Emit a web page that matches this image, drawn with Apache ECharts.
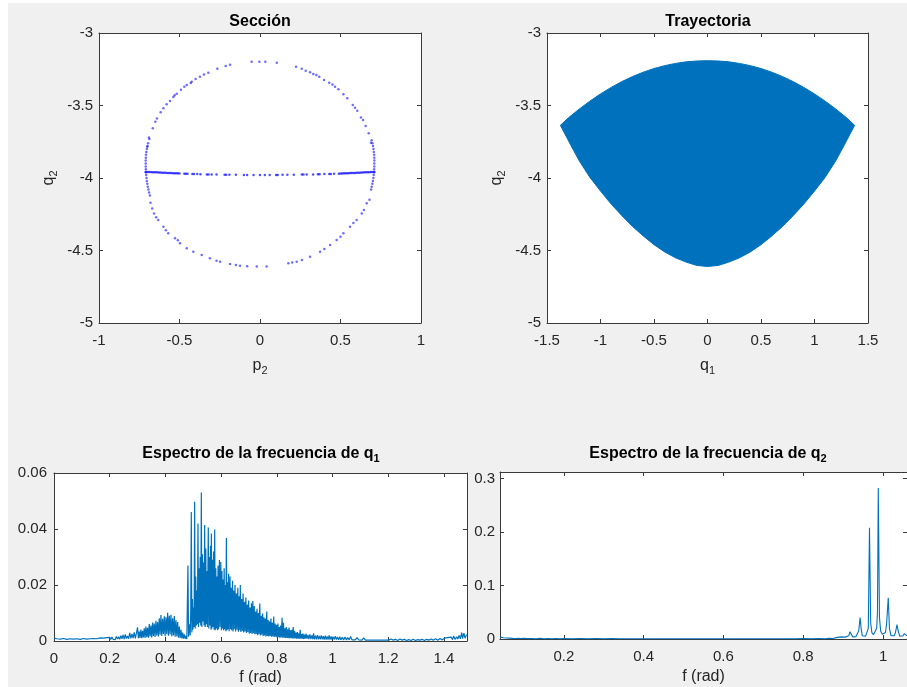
<!DOCTYPE html>
<html>
<head>
<meta charset="utf-8">
<script src="https://cdn.jsdelivr.net/npm/echarts@6/dist/echarts.min.js"></script>
<style>
html,body{margin:0;padding:0;background:#fff;}
#chart{width:907px;height:687px;}
</style>
</head>
<body>
<div id="chart"></div>
<script>
// ---------- DATA ----------
// Poincaré section points (p2, q2)
const sectionRing = [
[-0.052,-3.198],[-0.004,-3.198],[0.033,-3.198],[0.104,-3.205],
[-0.186,-3.219],[-0.213,-3.228],[-0.265,-3.246],[-0.321,-3.274],[-0.348,-3.287],[-0.373,-3.301],[-0.40,-3.317],[-0.424,-3.336],[-0.43,-3.345],[-0.455,-3.359],[-0.47,-3.37],[-0.491,-3.391],[-0.517,-3.419],[-0.53,-3.43],[-0.538,-3.441],[-0.559,-3.469],[-0.58,-3.492],[-0.60,-3.519],[-0.617,-3.547],[-0.64,-3.59],[-0.65,-3.612],[-0.666,-3.657],[-0.687,-3.731],[-0.69,-3.72],[-0.70,-3.784],
[0.224,-3.232],[0.259,-3.246],[0.284,-3.26],[0.311,-3.271],[0.331,-3.283],[0.35,-3.29],[0.368,-3.301],[0.398,-3.324],[0.43,-3.343],[0.45,-3.355],[0.466,-3.37],[0.487,-3.388],[0.518,-3.423],[0.542,-3.45],[0.576,-3.497],[0.59,-3.515],[0.604,-3.536],[0.627,-3.582],[0.64,-3.60],[0.656,-3.641],[0.675,-3.692],[0.689,-3.757],
[-0.68,-4.17],[-0.67,-4.21],[-0.658,-4.244],[-0.645,-4.27],[-0.632,-4.29],[-0.60,-4.336],[-0.585,-4.36],[-0.57,-4.381],[-0.528,-4.416],[-0.51,-4.43],[-0.497,-4.45],[-0.455,-4.485],[-0.414,-4.508],[-0.362,-4.531],[-0.311,-4.554],[-0.27,-4.57],[-0.248,-4.577],[-0.186,-4.593],[-0.15,-4.60],[-0.124,-4.605],[-0.08,-4.608],[-0.02,-4.611],[0.041,-4.611],
[0.176,-4.588],[0.2,-4.583],[0.228,-4.577],[0.26,-4.565],[0.311,-4.543],[0.373,-4.508],[0.4,-4.49],[0.435,-4.462],[0.476,-4.428],[0.5,-4.405],[0.518,-4.381],[0.559,-4.336],[0.58,-4.31],[0.60,-4.29],[0.632,-4.244],[0.645,-4.22],[0.663,-4.174],[0.68,-4.15],
[-0.695,-3.76],[-0.699,-3.78],[-0.703,-3.80],[-0.706,-3.82],[-0.708,-3.84],[-0.709,-3.86],[-0.710,-3.88],[-0.710,-3.90],[-0.710,-3.92],[-0.709,-3.94],[-0.708,-3.96],[-0.707,-3.98],[-0.705,-4.00],[-0.703,-4.02],[-0.700,-4.04],[-0.697,-4.06],[-0.693,-4.08],[-0.689,-4.10],[-0.684,-4.12],
[0.694,-3.74],[0.698,-3.76],[0.702,-3.78],[0.705,-3.80],[0.707,-3.82],[0.709,-3.84],[0.710,-3.86],[0.710,-3.88],[0.710,-3.90],[0.710,-3.92],[0.709,-3.94],[0.708,-3.96],[0.706,-3.98],[0.704,-4.00],[0.701,-4.02],[0.698,-4.04],[0.694,-4.06],[0.690,-4.08]
];
const sectionLine = [
[-0.71,-3.958],[-0.70,-3.958],[-0.69,-3.959],[-0.68,-3.959],[-0.67,-3.960],[-0.66,-3.960],[-0.65,-3.961],[-0.64,-3.961],[-0.63,-3.962],[-0.62,-3.962],[-0.61,-3.963],[-0.60,-3.964],[-0.59,-3.964],[-0.58,-3.965],[-0.57,-3.965],[-0.56,-3.966],[-0.55,-3.966],[-0.54,-3.967],[-0.53,-3.967],[-0.52,-3.968],[-0.51,-3.968],[-0.50,-3.969],[-0.47,-3.970],[-0.46,-3.970],[-0.45,-3.971],[-0.42,-3.972],[-0.41,-3.972],[-0.39,-3.973],[-0.37,-3.974],[-0.33,-3.975],[-0.32,-3.975],[-0.30,-3.976],[-0.27,-3.976],[-0.22,-3.977],[-0.21,-3.977],[-0.19,-3.978],[-0.15,-3.978],[-0.10,-3.979],[-0.08,-3.979],[-0.04,-3.979],[0.00,-3.979],[0.03,-3.979],[0.06,-3.979],[0.10,-3.979],[0.11,-3.979],[0.14,-3.978],[0.17,-3.978],[0.21,-3.977],[0.26,-3.976],[0.27,-3.976],[0.29,-3.976],[0.33,-3.975],[0.36,-3.974],[0.37,-3.974],[0.40,-3.973],[0.43,-3.972],[0.44,-3.972],[0.46,-3.971],[0.49,-3.970],[0.50,-3.969],[0.51,-3.969],[0.52,-3.968],[0.53,-3.968],[0.54,-3.967],[0.55,-3.967],[0.56,-3.966],[0.57,-3.966],[0.58,-3.965],[0.59,-3.965],[0.60,-3.964],[0.61,-3.964],[0.62,-3.963],[0.63,-3.962],[0.64,-3.962],[0.65,-3.961],[0.66,-3.961],[0.67,-3.960],[0.68,-3.960],[0.69,-3.959],[0.70,-3.959],[0.71,-3.958]
];
// Trajectory region boundary (q1, q2)
const trajectoryTop = [
[-1.375,-3.637],[-1.3,-3.585],[-1.2,-3.525],[-1.1,-3.47],[-1.0,-3.42],[-0.9,-3.375],[-0.8,-3.335],[-0.7,-3.30],[-0.6,-3.27],[-0.5,-3.245],[-0.4,-3.225],[-0.3,-3.21],[-0.2,-3.199],[-0.1,-3.193],[0,-3.191],[0.1,-3.193],[0.2,-3.199],[0.3,-3.21],[0.4,-3.225],[0.5,-3.245],[0.6,-3.27],[0.7,-3.30],[0.8,-3.335],[0.9,-3.375],[1.0,-3.42],[1.1,-3.47],[1.2,-3.525],[1.3,-3.585],[1.375,-3.637]
];
const trajectoryBottom = [
[1.375,-3.637],[1.33,-3.70],[1.28,-3.77],[1.2,-3.88],[1.1,-3.995],[1.0,-4.09],[0.9,-4.18],[0.8,-4.26],[0.7,-4.335],[0.6,-4.40],[0.5,-4.46],[0.4,-4.51],[0.3,-4.55],[0.2,-4.58],[0.1,-4.603],[0,-4.61],[-0.1,-4.603],[-0.2,-4.58],[-0.3,-4.55],[-0.4,-4.51],[-0.5,-4.46],[-0.6,-4.40],[-0.7,-4.335],[-0.8,-4.26],[-0.9,-4.18],[-1.0,-4.09],[-1.1,-3.995],[-1.2,-3.88],[-1.28,-3.77],[-1.33,-3.70],[-1.375,-3.637]
];
// Spectrum of q1 (f, amplitude)
const spectrumQ1 = [
[0.000,0.0010],[0.005,0.0004],[0.010,0.0008],[0.016,0.0003],[0.022,0.0007],[0.028,0.0004],[0.034,0.0009],[0.040,0.0003],[0.046,0.0006],[0.052,0.0004],[0.058,0.0008],[0.064,0.0003],[0.070,0.0007],[0.076,0.0004],[0.082,0.0008],[0.088,0.0003],[0.094,0.0006],[0.100,0.0004],[0.106,0.0009],[0.112,0.0004],[0.118,0.0007],[0.124,0.0003],[0.130,0.0008],[0.136,0.0004],[0.142,0.0009],[0.148,0.0004],[0.154,0.0008],[0.160,0.0005],[0.166,0.0011],[0.172,0.0004],[0.178,0.0010],[0.184,0.0005],[0.190,0.0012],[0.196,0.0005],
[0.200,0.0013],[0.204,0.0005],[0.208,0.0014],[0.212,0.0006],[0.216,0.0012],[0.220,0.0005],[0.224,0.0016],[0.228,0.0007],[0.232,0.0015],[0.236,0.0006],[0.240,0.0019],[0.244,0.0008],[0.248,0.0022],[0.252,0.0007],[0.256,0.0024],[0.260,0.0009],[0.264,0.0018],[0.268,0.0008],[0.272,0.0029],[0.276,0.0009],[0.280,0.0025],[0.284,0.0010],[0.288,0.0031],[0.292,0.0009],[0.296,0.0028],[0.300,0.0049],[0.303,0.0010],
[0.306,0.0034],[0.309,0.0011],[0.312,0.0041],[0.315,0.0010],[0.318,0.0036],[0.321,0.0013],[0.324,0.0045],[0.327,0.0011],[0.330,0.0052],[0.333,0.0014],[0.336,0.0047],[0.339,0.0012],[0.342,0.0061],[0.345,0.0016],[0.348,0.0055],[0.351,0.0013],[0.354,0.0066],[0.357,0.0018],[0.360,0.0062],[0.363,0.0014],[0.366,0.0072],[0.369,0.0020],[0.372,0.0068],[0.375,0.0016],[0.378,0.0081],[0.381,0.0022],[0.384,0.0093],[0.387,0.0018],[0.390,0.0079],[0.393,0.0025],[0.396,0.0088],[0.399,0.0017],[0.402,0.0085],[0.405,0.0024],[0.408,0.0101],[0.411,0.0019],[0.414,0.0090],[0.417,0.0023],[0.420,0.0094],[0.423,0.0017],[0.426,0.0081],[0.429,0.0020],[0.432,0.0089],[0.435,0.0015],[0.438,0.0074],[0.441,0.0016],[0.444,0.0068],[0.447,0.0012],[0.450,0.0052],[0.453,0.0011],[0.456,0.0040],[0.459,0.0009],[0.462,0.0030],[0.465,0.0008],[0.468,0.0024],[0.471,0.0008],[0.474,0.0018],[0.477,0.0007],
[0.480,0.0012],[0.481,0.0270],[0.483,0.0015],[0.486,0.0060],[0.489,0.0020],[0.491,0.0100],[0.493,0.0461],[0.495,0.0030],[0.497,0.0150],[0.499,0.0040],[0.501,0.0120],[0.503,0.0050],[0.505,0.0497],[0.507,0.0045],[0.509,0.0230],[0.511,0.0055],[0.513,0.0180],[0.515,0.0060],[0.517,0.0420],[0.519,0.0050],[0.521,0.0260],[0.523,0.0065],[0.525,0.0300],[0.527,0.0055],[0.529,0.0530],[0.531,0.0050],[0.533,0.0310],[0.535,0.0070],[0.537,0.0280],[0.539,0.0055],[0.541,0.0414],[0.543,0.0050],[0.545,0.0330],[0.547,0.0060],[0.549,0.0250],[0.551,0.0050],[0.554,0.0405],[0.556,0.0045],[0.558,0.0300],[0.560,0.0055],[0.562,0.0340],[0.564,0.0040],[0.565,0.0384],[0.567,0.0045],[0.569,0.0290],[0.571,0.0050],[0.573,0.0320],[0.575,0.0040],[0.577,0.0398],[0.579,0.0038],[0.581,0.0260],[0.583,0.0045],[0.585,0.0230],[0.587,0.0038],[0.589,0.0270],[0.591,0.0042],[0.594,0.0289],[0.596,0.0050],[0.599,0.0282],[0.601,0.0038],[0.603,0.0250],[0.605,0.0045],[0.607,0.0220],[0.609,0.0038],[0.611,0.0260],[0.613,0.0042],[0.616,0.0200],[0.617,0.0035],[0.619,0.0368],[0.621,0.0038],[0.623,0.0210],[0.625,0.0042],[0.627,0.0240],[0.629,0.0035],[0.632,0.0230],[0.634,0.0042],[0.636,0.0190],[0.638,0.0038],[0.641,0.0215],[0.643,0.0034],[0.645,0.0180],[0.647,0.0042],[0.650,0.0200],[0.652,0.0034],[0.655,0.0170],[0.657,0.0040],[0.660,0.0190],[0.662,0.0033],[0.665,0.0160],[0.667,0.0038],[0.669,0.0200],[0.671,0.0032],[0.674,0.0150],[0.676,0.0036],[0.679,0.0170],[0.681,0.0030],[0.684,0.0140],[0.686,0.0034],[0.689,0.0155],[0.691,0.0029],[0.694,0.0130],[0.696,0.0032],[0.699,0.0145],[0.701,0.0026],[0.704,0.0120],[0.706,0.0029],[0.709,0.0135],[0.711,0.0025],[0.714,0.0143],[0.716,0.0028],[0.719,0.0125],[0.721,0.0024],[0.724,0.0105],[0.726,0.0025],[0.729,0.0115],[0.731,0.0021],[0.734,0.0100],[0.736,0.0024],[0.739,0.0134],[0.741,0.0020],[0.744,0.0090],[0.746,0.0022],[0.749,0.0098],[0.751,0.0018],[0.754,0.0085],[0.756,0.0020],[0.759,0.0080],[0.761,0.0016],[0.764,0.0105],[0.766,0.0018],[0.769,0.0075],[0.771,0.0016],[0.774,0.0070],[0.776,0.0018],[0.779,0.0080],[0.781,0.0015],[0.784,0.0065],[0.786,0.0016],[0.789,0.0087],[0.791,0.0014],[0.794,0.0062],[0.796,0.0015],[0.799,0.0058],[0.801,0.0013],[0.804,0.0062],[0.806,0.0014],[0.809,0.0050],[0.811,0.0012],[0.814,0.0055],[0.816,0.0013],[0.819,0.0083],[0.821,0.0012],[0.824,0.0065],[0.826,0.0012],[0.829,0.0045],[0.831,0.0011],[0.834,0.0050],[0.836,0.0011],[0.839,0.0042],[0.841,0.0010],[0.844,0.0048],[0.846,0.0010],[0.849,0.0038],[0.851,0.0010],[0.854,0.0040],[0.856,0.0009],[0.859,0.0050],[0.861,0.0009],[0.864,0.0036],[0.866,0.0009],[0.869,0.0030],[0.871,0.0008],[0.874,0.0032],[0.876,0.0008],[0.879,0.0027],[0.881,0.0008],[0.884,0.0040],[0.886,0.0008],[0.889,0.0025],[0.891,0.0008],[0.894,0.0027],[0.896,0.0007],[0.899,0.0023],
[0.902,0.0008],[0.905,0.0026],[0.908,0.0008],[0.912,0.0022],[0.915,0.0007],[0.919,0.0024],[0.922,0.0007],[0.926,0.0020],[0.929,0.0007],[0.932,0.0027],[0.935,0.0006],[0.939,0.0019],[0.942,0.0006],[0.946,0.0021],[0.949,0.0006],[0.953,0.0018],[0.956,0.0006],[0.960,0.0020],[0.963,0.0006],[0.967,0.0017],[0.970,0.0005],[0.974,0.0019],[0.977,0.0005],[0.981,0.0016],[0.984,0.0005],[0.988,0.0020],[0.991,0.0005],[0.995,0.0016],[0.998,0.0005],[1.002,0.0015],[1.006,0.0005],[1.010,0.0017],[1.014,0.0005],[1.018,0.0014],[1.022,0.0004],[1.026,0.0015],[1.030,0.0004],[1.035,0.0013],[1.040,0.0004],[1.045,0.0014],[1.050,0.0004],[1.055,0.0012],[1.060,0.0004],[1.065,0.0016],[1.070,0.0004],[1.076,0.0011],[1.082,0.0004],[1.088,0.0012],[1.094,0.0004],[1.100,0.0010],[1.106,0.0003],[1.112,0.0011],[1.118,0.0003],[1.124,0.0009],[1.130,0.0003],[1.136,0.0010],[1.142,0.0003],[1.148,0.0008],[1.154,0.0003],[1.160,0.0009],[1.166,0.0003],[1.172,0.0007],[1.178,0.0003],[1.184,0.0008],[1.190,0.0003],[1.196,0.0007],
[1.202,0.0003],[1.210,0.0007],[1.218,0.0003],[1.226,0.0006],[1.234,0.0002],[1.242,0.0007],[1.250,0.0003],[1.258,0.0006],[1.266,0.0002],[1.274,0.0005],[1.282,0.0002],[1.290,0.0006],[1.298,0.0002],[1.306,0.0005],[1.314,0.0003],[1.322,0.0006],[1.330,0.0002],[1.338,0.0006],[1.346,0.0003],[1.354,0.0007],[1.362,0.0003],[1.370,0.0008],[1.378,0.0003],[1.386,0.0009],[1.394,0.0004],[1.402,0.0010],[1.408,0.0004],[1.414,0.0012],[1.420,0.0005],[1.426,0.0014],[1.431,0.0005],[1.435,0.0018],[1.440,0.0006],[1.446,0.0015],[1.450,0.0007],[1.455,0.0020],[1.459,0.0008],[1.464,0.0030],[1.467,0.0009],[1.472,0.0028],[1.476,0.0010],[1.480,0.0020],[1.483,0.0023]
];
// Spectrum of q2 (f, amplitude)
const spectrumQ2 = [
[0.040,0.0035],[0.044,0.0015],[0.048,0.0024],[0.052,0.0012],[0.056,0.0020],[0.060,0.0010],[0.064,0.0016],[0.068,0.0028],[0.072,0.0012],[0.076,0.0018],[0.080,0.0010],[0.086,0.0014],[0.092,0.0008],[0.100,0.0012],[0.110,0.0007],[0.120,0.0010],[0.130,0.0006],[0.140,0.0011],[0.150,0.0006],[0.160,0.0009],[0.170,0.0005],[0.180,0.0008],[0.190,0.0005],[0.200,0.0009],[0.220,0.0005],[0.240,0.0008],[0.260,0.0005],[0.280,0.0007],[0.300,0.0004],[0.320,0.0007],[0.340,0.0004],[0.360,0.0006],[0.380,0.0004],[0.400,0.0006],[0.420,0.0004],[0.440,0.0006],[0.460,0.0004],[0.480,0.0006],[0.500,0.0004],[0.520,0.0006],[0.540,0.0004],[0.560,0.0006],[0.580,0.0004],[0.600,0.0006],[0.620,0.0004],[0.640,0.0006],[0.660,0.0004],[0.680,0.0006],[0.700,0.0004],[0.720,0.0006],[0.740,0.0004],[0.760,0.0006],[0.780,0.0005],[0.800,0.0007],[0.820,0.0005],[0.840,0.0008],[0.855,0.0006],[0.865,0.0012],[0.875,0.0010],[0.880,0.0018],[0.885,0.0030],[0.890,0.0015],[0.895,0.0040],[0.900,0.0020],[0.905,0.0035],[0.910,0.0020],[0.914,0.0060],[0.917,0.0136],[0.920,0.0100],[0.924,0.0040],[0.928,0.0030],[0.932,0.0045],[0.936,0.0060],[0.939,0.0150],[0.9425,0.0400],[0.945,0.0200],[0.948,0.0060],[0.952,0.0040],[0.956,0.0050],[0.960,0.0080],[0.963,0.0200],[0.966,0.2080],[0.969,0.0300],[0.972,0.0120],[0.976,0.0080],[0.980,0.0100],[0.984,0.0200],[0.986,0.0500],[0.988,0.2825],[0.991,0.0400],[0.994,0.0150],[0.998,0.0090],[1.002,0.0080],[1.006,0.0120],[1.009,0.0300],[1.013,0.0770],[1.016,0.0200],[1.020,0.0060],[1.024,0.0040],[1.028,0.0060],[1.031,0.0120],[1.035,0.0270],[1.038,0.0150],[1.042,0.0050],[1.046,0.0040],[1.050,0.0060],[1.053,0.0100],[1.055,0.0120],[1.058,0.0080],[1.060,0.0060]
];
// Tick values
const sectionXTicks = [-1,-0.5,0,0.5,1];
const trajXTicks = [-1.5,-1,-0.5,0,0.5,1,1.5];
const q2Ticks = [-5,-4.5,-4,-3.5,-3];
const spec1XTicks = [0,0.2,0.4,0.6,0.8,1,1.2,1.4];
const spec1YTicks = [0,0.02,0.04,0.06];
const spec2XTicks = [0.2,0.4,0.6,0.8,1];
const spec2YTicks = [0,0.1,0.2,0.3];

// ---------- CHART ----------
const FONT = 'Liberation Sans, Arial, Helvetica, sans-serif';
const TXT = '#262626';
const AX = '#3a3a3a';
const chart = echarts.init(document.getElementById('chart'), null, {renderer: 'canvas'});

const grids = [
  {left: 99, top: 33, width: 322, height: 290},
  {left: 547, top: 33, width: 321, height: 290},
  {left: 54, top: 473, width: 413, height: 168},
  {left: 500, top: 472, width: 408, height: 167}
].map(g => Object.assign({show: true, backgroundColor: '#ffffff', borderWidth: 0, containLabel: false}, g));

function fmt(v) { return String(Math.round(v * 10000) / 10000); }

function mkAxis(kind, gridIndex, pos, min, max, ticks, showLabel, name, nameGap, labelMargin) {
  const a = {
    type: 'value', gridIndex, position: pos, min, max,
    splitLine: {show: false},
    axisLine: {show: true, onZero: false, lineStyle: {color: AX, width: 1}},
    axisTick: {show: true, inside: true, length: 4, lineStyle: {color: AX}, customValues: ticks},
    axisLabel: {show: showLabel, customValues: ticks, color: TXT, fontFamily: FONT, fontSize: 15, margin: labelMargin || 8, formatter: fmt, showMinLabel: true, showMaxLabel: true, hideOverlap: false}
  };
  if (name) {
    a.name = name;
    a.nameLocation = 'middle';
    a.nameGap = nameGap;
    a.nameTextStyle = {
      color: TXT, fontFamily: FONT, fontSize: 16,
      rich: {
        m: {color: TXT, fontFamily: FONT, fontSize: 16},
        s: {color: TXT, fontFamily: FONT, fontSize: 11, padding: [9, 0, 0, 0]}
      }
    };
  }
  return a;
}

const xAxes = [
  mkAxis('x', 0, 'bottom', -1, 1, sectionXTicks, true, '{m|p}{s|2}', 33, 10),
  mkAxis('x', 0, 'top', -1, 1, sectionXTicks, false),
  mkAxis('x', 1, 'bottom', -1.5, 1.5, trajXTicks, true, '{m|q}{s|1}', 33, 10),
  mkAxis('x', 1, 'top', -1.5, 1.5, trajXTicks, false),
  mkAxis('x', 2, 'bottom', 0, 1.483, spec1XTicks, true, 'f (rad)', 29, 10),
  mkAxis('x', 2, 'top', 0, 1.483, spec1XTicks, false),
  mkAxis('x', 3, 'bottom', 0.04, 1.06, spec2XTicks, true, 'f (rad)', 30, 10),
  mkAxis('x', 3, 'top', 0.04, 1.06, spec2XTicks, false)
];
const yAxes = [
  mkAxis('y', 0, 'left', -5, -3, q2Ticks, true, '{m|q}{s|2}', 40, 6),
  mkAxis('y', 0, 'right', -5, -3, q2Ticks, false),
  mkAxis('y', 1, 'left', -5, -3, q2Ticks, true, '{m|q}{s|2}', 40, 6),
  mkAxis('y', 1, 'right', -5, -3, q2Ticks, false),
  mkAxis('y', 2, 'left', 0, 0.06, spec1YTicks, true, null, 0, 7),
  mkAxis('y', 2, 'right', 0, 0.06, spec1YTicks, false),
  mkAxis('y', 3, 'left', 0, 0.3125, spec2YTicks, true, null, 0, 5),
  mkAxis('y', 3, 'right', 0, 0.3125, spec2YTicks, false)
];
yAxes.forEach(a => { if (a.nameTextStyle) { a.nameRotate = 90; } });

const trajectoryPolygon = trajectoryTop.concat(trajectoryBottom.slice(1));

function titleText(x, y, rich) {
  return {
    type: 'text', x, y, z: 10,
    style: {
      text: rich, align: 'center', verticalAlign: 'middle',
      fontFamily: FONT, fontWeight: 'bold', fontSize: 16, fill: '#000',
      rich: {
        t: {fontFamily: FONT, fontWeight: 'bold', fontSize: 16, fill: '#000'},
        s: {fontFamily: FONT, fontWeight: 'bold', fontSize: 11, fill: '#000', padding: [9, 0, 0, 0]}
      }
    }
  };
}

const option = {
  backgroundColor: '#ffffff',
  animation: false,
  grid: grids,
  xAxis: xAxes,
  yAxis: yAxes,
  graphic: {elements: [
    {type: 'rect', left: 8, top: 3, z: -100, silent: true, shape: {width: 899, height: 684}, style: {fill: '#f0f0f0'}},
    titleText(260, 22, '{t|Sección}'),
    titleText(708, 22, '{t|Trayectoria}'),
    titleText(261, 454, '{t|Espectro de la frecuencia de q}{s|1}'),
    titleText(708, 454, '{t|Espectro de la frecuencia de q}{s|2}')
  ]},
  series: [
    {type: 'scatter', xAxisIndex: 0, yAxisIndex: 0, data: sectionRing, symbol: 'circle', symbolSize: 2.5,
     itemStyle: {color: 'rgba(0,0,255,0.72)'}, silent: true},
    {type: 'scatter', xAxisIndex: 0, yAxisIndex: 0, data: sectionLine, symbol: 'circle', symbolSize: 2.5,
     itemStyle: {color: 'rgba(0,0,255,0.85)'}, silent: true},
    {type: 'custom', xAxisIndex: 2, yAxisIndex: 2, data: trajectoryPolygon, silent: true,
     encode: {x: 0, y: 1},
     renderItem: function (params, api) {
       if (params.dataIndex !== 0) return null;
       const pts = trajectoryPolygon.map(p => api.coord(p));
       return {type: 'polygon', shape: {points: pts}, style: {fill: '#0072BD', stroke: '#0072BD', lineWidth: 1}};
     }},
    {type: 'line', xAxisIndex: 4, yAxisIndex: 4, data: spectrumQ1, showSymbol: false, symbol: 'none',
     lineStyle: {color: '#0072BD', width: 1.2}, silent: true, sampling: null},
    {type: 'line', xAxisIndex: 6, yAxisIndex: 6, data: spectrumQ2, showSymbol: false, symbol: 'none',
     lineStyle: {color: '#0072BD', width: 1.1}, silent: true}
  ]
};
chart.setOption(option);
</script>
</body>
</html>
